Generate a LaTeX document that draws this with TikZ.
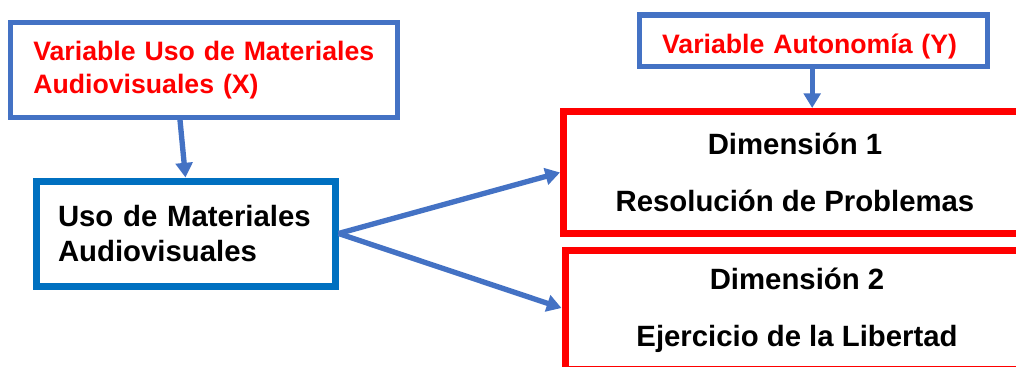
\documentclass[tikz,border=0pt]{standalone}
\usepackage{fontspec}
\setmainfont{Liberation Sans}
\usetikzlibrary{arrows.meta}
\definecolor{lineblue}{HTML}{4472C4}
\definecolor{darkblue}{HTML}{0070C0}
\definecolor{pured}{HTML}{FF0000}
\begin{document}
\begin{tikzpicture}[x=0.75pt,y=-0.75pt]
\tikzstyle{varbox} = [draw=lineblue, line width=4pt, text=pured, inner sep=0pt,
   align=left, font=\bfseries\fontsize{20}{24.75}\selectfont]
\tikzstyle{usobox} = [draw=darkblue, line width=5.25pt, inner sep=0pt,
   align=left, font=\bfseries\fontsize{22}{26.25}\selectfont]
\tikzstyle{dimbox} = [draw=pured, line width=5.25pt, inner sep=0pt,
   align=center, font=\bfseries\fontsize{22}{42.75}\selectfont]
\tikzstyle{arr} = [draw=lineblue, line width=4pt, -{Triangle[length=11pt,width=12.5pt]}]
\useasboundingbox (0,0) rectangle (1016,367);
% variables
\node[varbox, minimum width=290.25pt, minimum height=71pt, text width=256pt]
   (xvar) at (204,70) {Variable Uso de Materiales\\Audiovisuales (X)};
\node[varbox, minimum width=261pt, minimum height=38.6pt, text width=227pt,
   text height=18.4pt, text depth=0pt]
   (yvar) at (813.5,40.75) {Variable Autonom\'ia (Y)};
% boxes
\node[usobox, minimum width=224.25pt, minimum height=78.75pt, text width=191.25pt]
   (uso) at (185.5,233.5) {Uso de Materiales\\Audiovisuales};
\node[dimbox, minimum width=347.25pt, minimum height=91.5pt]
   (dim1) at (795,172.5) {Dimensi\'on 1\\Resoluci\'on de Problemas};
\node[dimbox, minimum width=348pt, minimum height=89.6pt]
   (dim2) at (797,310) {Dimensi\'on 2\\Ejercicio de la Libertad};
% arrows
\draw[arr] ([xshift=-18pt]xvar.south) -- (uso.north);
\draw[arr] ([xshift=-1pt]yvar.south) -- ([xshift=-1pt]yvar.south |- dim1.north);
\draw[arr] (uso.east) -- (dim1.west);
\draw[arr] (uso.east) -- ([yshift=1.5pt]dim2.west);
\end{tikzpicture}
\end{document}
